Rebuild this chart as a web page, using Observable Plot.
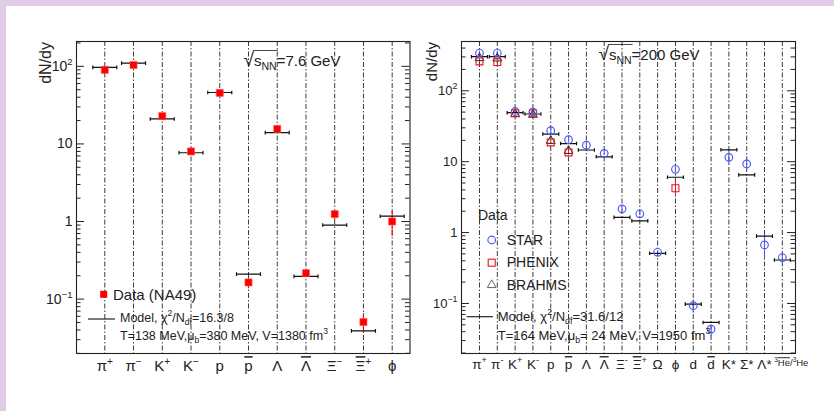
<!DOCTYPE html>
<html><head><meta charset="utf-8">
<script src="https://cdn.jsdelivr.net/npm/d3@7"></script>
<script src="https://cdn.jsdelivr.net/npm/@observablehq/plot@0.6"></script>
<style>
html,body{margin:0;padding:0;background:#fff;}
#wrap{position:relative;width:834px;height:411px;overflow:hidden;background:#fff;}
.band{position:absolute;background:#e0cde5;}
#left,#right{position:absolute;top:0;}
#left{left:0;} #right{left:415px;}
</style></head>
<body>
<div id="wrap">
  <div class="band" style="left:0;top:0;width:834px;height:6px"></div>
  <div class="band" style="left:0;top:0;width:6px;height:411px"></div>
  <div id="left"></div>
  <div id="right"></div>
</div>
<script>
// ---------- data: left panel (NA49, 7.6 GeV) ----------
const cats7   = ["π^{+}", "π^{−}", "K^{+}", "K^{−}", "p", "!{p}", "Λ", "!{Λ}", "Ξ^{−}", "!{Ξ}^{+}", "ϕ"];
const na49    = [90, 104, 22.8, 8.0, 45.5, 0.164, 15.6, 0.216, 1.245, 0.0506, 1.0];
const na49Lo  = [85, 99, 21.6, 7.6, 43.5, 0.136, 14.8, 0.200, 1.03, 0.0365, 0.64];
const na49Hi  = [95, 109, 24.0, 8.4, 47.5, 0.190, 16.4, 0.232, 1.35, 0.065, 1.35];
const model7  = [97, 110, 21, 7.7, 46, 0.21, 14, 0.196, 0.90, 0.039, 1.17];

// ---------- data: right panel (RHIC, 200 GeV) ----------
const cats200 = ["π^{+}", "π^{-}", "K^{+}", "K^{-}", "p", "!{p}", "Λ", "!{Λ}", "Ξ^{-}", "!{Ξ}^{+}", "Ω", "ϕ", "d", "!{d}", "K*", "Σ*", "Λ*", "^{3}!{He}/^{3}He"];
const star    = [340, 340, 51, 50, 27.3, 20.4, 17.1, 13.1, 2.16, 1.84, 0.527, 7.8, 0.093, 0.0435, 11.5, 9.3, 0.67, 0.444];
const starLo  = [318, 318, 48, 47, 24.5, 18.8, 15.9, 12.3, 2.02, 1.72, 0.50, 7.1, 0.073, 0.034, 8.9, 7.6, 0.43, 0.415];
const starHi  = [362, 362, 54, 53, 30.5, 22.6, 18.3, 13.9, 2.30, 1.96, 0.555, 8.5, 0.112, 0.049, 14.6, 11.4, 0.93, 0.475];
const phenix  = [259, 254, 48, 48, 18.7, 13.5, null, null, null, null, null, 4.22, null, null, null, null, null, null];
const phenixLo= [250, 245, 46, 46, 17.6, 12.7, null, null, null, null, null, 3.36, null, null, null, null, null, null];
const phenixHi= [268, 263, 50, 50, 19.8, 14.3, null, null, null, null, null, 5.35, null, null, null, null, null, null];
const brahms  = [289, 286, 47, 46, 19.7, 14.2, null, null, null, null, null, null, null, null, null, null, null, null];
const model200= [302, 302, 49, 47, 24.5, 18, 14.6, 11.7, 1.64, 1.46, 0.51, 6.03, 0.098, 0.054, 14.7, 6.5, 0.89, 0.41];

const yTicks = [0.1, 1, 10, 100];
const yTickText = {"0.1": "10^{−1}", "1": "1", "10": "10", "100": "10^{2}"};

const FONT = "Liberation Sans, Arial, Helvetica, sans-serif";

function minors(lo, hi) {
  const out = [];
  for (let e = -3; e <= 3; e++) for (let k = 2; k <= 9; k++) {
    const v = k * Math.pow(10, e);
    if (v >= lo && v <= hi) out.push(v);
  }
  return out;
}
const capBar = (hw) => ({
  draw(ctx) {
    ctx.moveTo(-hw, 0); ctx.lineTo(hw, 0);
    ctx.moveTo(-hw, -1.8); ctx.lineTo(-hw, 1.8);
    ctx.moveTo(hw, -1.8); ctx.lineTo(hw, 1.8);
  }
});

// rich text: ^{sup}  ~{sub}  !{overline}
function richify(el, markup, fs) {
  const sel = d3.select(el);
  sel.text(null);
  const re = /(\^\{[^}]*\}|~\{[^}]*\}|!\{[^}]*\}|[^\^~!]+)/g;
  let shift = 0;
  for (const tok of markup.match(re) || []) {
    let type = "n", content = tok;
    if (tok[0] === "^" ) { type = "sup"; content = tok.slice(2, -1); }
    else if (tok[0] === "~") { type = "sub"; content = tok.slice(2, -1); }
    else if (tok[0] === "!") { type = "over"; content = tok.slice(2, -1); }
    const target = type === "sup" ? -0.42 * fs : type === "sub" ? 0.3 * fs : 0;
    const t = sel.append("tspan").text(content);
    if (target - shift !== 0) t.attr("dy", target - shift);
    shift = target;
    if (type === "sup" || type === "sub") t.attr("font-size", (0.68 * fs).toFixed(2));
    if (type === "over") t.style("text-decoration", "overline");
  }
  return el;
}
function addText(svg, x, y, markup, fs, opts = {}) {
  const t = svg.append("text")
    .attr("x", x).attr("y", y)
    .attr("font-size", fs)
    .attr("font-family", FONT)
    .attr("fill", opts.fill || "#222")
    .attr("text-anchor", opts.anchor || "start");
  if (opts.transform) t.attr("transform", opts.transform).attr("x", 0).attr("y", 0);
  richify(t.node(), markup, fs);
  return t;
}
function energyLabel(svg, x, y, value) {
  const g = svg.append("g");
  const t = g.append("text").attr("x", x).attr("y", y).attr("font-size", 15)
    .attr("font-family", FONT).attr("fill", "#222");
  t.append("tspan").text("√").attr("font-size", 19).attr("font-weight", 100);
  t.append("tspan").text("s");
  t.append("tspan").text("NN").attr("font-size", 10.5).attr("dy", 4);
  t.append("tspan").text("=" + value).attr("dy", -4);
  const node = t.node();
  const x0 = node.getStartPositionOfChar(1).x;
  const x1 = node.getEndPositionOfChar(3).x;
  g.append("line").attr("x1", x0 - 1).attr("x2", x1 + 1).attr("y1", y - 15.5).attr("y2", y - 15.5)
    .attr("stroke", "#333").attr("stroke-width", 0.9);
}

function makePanel(cfg) {
  const fw = cfg.width - cfg.ml - cfg.mr;
  const idx = d3.range(cfg.cats.length);
  const mn = minors(cfg.ydom[0], cfg.ydom[1]);
  const marks = [
    Plot.ruleX(idx, {x: d => d, stroke: "#3a3a3a", strokeWidth: 1, strokeDasharray: "5,2,1.5,2"}),
    Plot.tickY(mn, {y: d => d, insetRight: fw - 4.5, stroke: "#222"}),
    Plot.tickY(mn, {y: d => d, insetLeft: fw - 4.5, stroke: "#222"}),
    Plot.tickY(yTicks, {y: d => d, insetRight: fw - 8, stroke: "#222"}),
    Plot.tickY(yTicks, {y: d => d, insetLeft: fw - 8, stroke: "#222"}),
    Plot.axisY(yTicks, {tickSize: 0, tickPadding: cfg.yPad, fontSize: cfg.yfs, label: null,
      tickFormat: v => yTickText[String(v)], fill: "#222"}),
    Plot.axisX(idx, {tickSize: 0, tickPadding: cfg.xPad, fontSize: cfg.xfs, label: null,
      tickFormat: i => cfg.cats[i], fill: "#222"}),
    ...cfg.marks(idx),
    Plot.frame({stroke: "#222", strokeWidth: 1.1})
  ];
  return Plot.plot({
    width: cfg.width, height: cfg.height,
    marginLeft: cfg.ml, marginRight: cfg.mr, marginTop: cfg.mt, marginBottom: cfg.mb,
    style: {background: "transparent", fontFamily: FONT, color: "#222", overflow: "visible"},
    x: {type: "linear", domain: cfg.xdom},
    y: {type: "log", domain: cfg.ydom},
    marks
  });
}

// ---------- left panel ----------
const leftSvg = makePanel({
  width: 415, height: 411, ml: 76, mr: 5.5, mt: 41, mb: 58,
  xdom: [-0.985, 10.62], ydom: [0.0199, 209],
  cats: cats7, yfs: 14, xfs: 15, yPad: 4, xPad: 7,
  marks: idx => [
    Plot.ruleX(idx, {x: d => d, y1: i => na49Lo[i], y2: i => na49Hi[i], stroke: "#f00", strokeWidth: 1}),
    Plot.dot(idx, {x: d => d, y: i => model7[i], symbol: capBar(12), r: 1, stroke: "#111", fill: "none", strokeWidth: 1.2}),
    Plot.dot(idx, {x: d => d, y: i => na49[i], symbol: "square", r: 4, fill: "#f00", stroke: "#f55", strokeWidth: 0.6})
  ]
});
document.getElementById("left").appendChild(leftSvg);

// ---------- right panel ----------
const has = arr => i => arr[i] != null;
const blue = "#4f5cf2", red = "#e8161c";
const rightSvg = makePanel({
  width: 419, height: 411, ml: 46, mr: 39, mt: 41, mb: 58,
  xdom: [-1.01, 17.74], ydom: [0.0197, 495],
  cats: cats200, yfs: 13, xfs: 13.5, yPad: 4, xPad: 6,
  marks: idx => [
    Plot.ruleX(idx, {x: d => d, y1: i => starLo[i], y2: i => starHi[i], stroke: blue, strokeWidth: 1.1}),
    Plot.ruleX(idx, {filter: has(phenix), x: d => d, y1: i => phenixLo[i], y2: i => phenixHi[i], stroke: red, strokeWidth: 1}),
    Plot.dot(idx, {x: d => d, y: i => model200[i], symbol: capBar(8), r: 1, stroke: "#111", fill: "none", strokeWidth: 1.2}),
    Plot.dot(idx, {filter: has(brahms), x: d => d, y: i => brahms[i], symbol: "triangle", r: 3.3, stroke: "#222", fill: "none", strokeWidth: 1}),
    Plot.dot(idx, {filter: has(phenix), x: d => d, y: i => phenix[i], symbol: "square", r: 3.9, stroke: red, fill: "none", strokeWidth: 1.1}),
    Plot.dot(idx, {x: d => d, y: i => star[i], symbol: "circle", r: 3.8, stroke: blue, fill: "none", strokeWidth: 1.2})
  ]
});
document.getElementById("right").appendChild(rightSvg);

// ---------- rich tick labels ----------
for (const [svg, fsx, fsy] of [[leftSvg, 15, 14], [rightSvg, 13.5, 13]]) {
  d3.select(svg).selectAll('[aria-label="x-axis tick label"] text').each(function () {
    richify(this, this.textContent, fsx);
  });
  d3.select(svg).selectAll('[aria-label="y-axis tick label"] text').each(function () {
    richify(this, this.textContent, fsy);
  });
}
// small last label on the right panel
d3.select(rightSvg).selectAll('[aria-label="x-axis tick label"] text').filter(function (d, i, n) { return i === n.length - 1; })
  .attr("font-size", 9.5).attr("dx", 9).attr("dy", "1.3em")
  .each(function () { richify(this, cats200[cats200.length - 1], 9.5); });

// ---------- annotations: left ----------
const L = d3.select(leftSvg);
addText(L, 0, 0, "dN/dy", 16, {anchor: "end", transform: "translate(51,42) rotate(-90)"});
energyLabel(L, 292, 66, "7.6 GeV");
L.append("rect").attr("x", 100.2).attr("y", 290.8).attr("width", 7).attr("height", 7).attr("fill", "#f00");
addText(L, 113, 300, "Data (NA49)", 15);
L.append("line").attr("x1", 88).attr("x2", 115).attr("y1", 319).attr("y2", 319).attr("stroke", "#111").attr("stroke-width", 1.1);
addText(L, 120, 321.5, "Model, χ^{2}/N~{df}=16.3/8", 12.5);
addText(L, 120, 339.5, "T=138 MeV,μ~{b}=380 MeV, V=1380 fm^{3}", 12.5);

// ---------- annotations: right ----------
const R = d3.select(rightSvg);
const ox = 415;
addText(R, 0, 0, "dN/dy", 15, {anchor: "end", transform: `translate(${436.5 - ox},42) rotate(-90)`});
energyLabel(R, 649 - ox, 60, "200 GeV");
addText(R, 478 - ox, 220, "Data", 14);
R.append("circle").attr("cx", 491.7 - ox).attr("cy", 240).attr("r", 3.8).attr("fill", "none").attr("stroke", blue).attr("stroke-width", 1.2);
addText(R, 506.7 - ox, 244.5, "STAR", 14);
R.append("rect").attr("x", 488.2 - ox).attr("y", 259.2).attr("width", 7).attr("height", 7).attr("fill", "none").attr("stroke", red).attr("stroke-width", 1.1);
addText(R, 506.7 - ox, 267.3, "PHENIX", 14);
R.append("path").attr("d", d3.symbol(d3.symbolTriangle, 3.3 * 3.3 * Math.PI)()).attr("transform", `translate(${491.7 - ox},285)`)
  .attr("fill", "none").attr("stroke", "#666").attr("stroke-width", 1);
addText(R, 506.7 - ox, 289.8, "BRAHMS", 14);
R.append("line").attr("x1", 466.7 - ox).attr("x2", 493 - ox).attr("y1", 316.7).attr("y2", 316.7).attr("stroke", "#111").attr("stroke-width", 1.1);
addText(R, 497.7 - ox, 320.5, "Model, χ^{2}/N~{df}=31.6/12", 13);
addText(R, 497.7 - ox, 339.5, "T=164 MeV,μ~{b}= 24 MeV, V=1950 fm^{3}", 13);
</script>
</body></html>
